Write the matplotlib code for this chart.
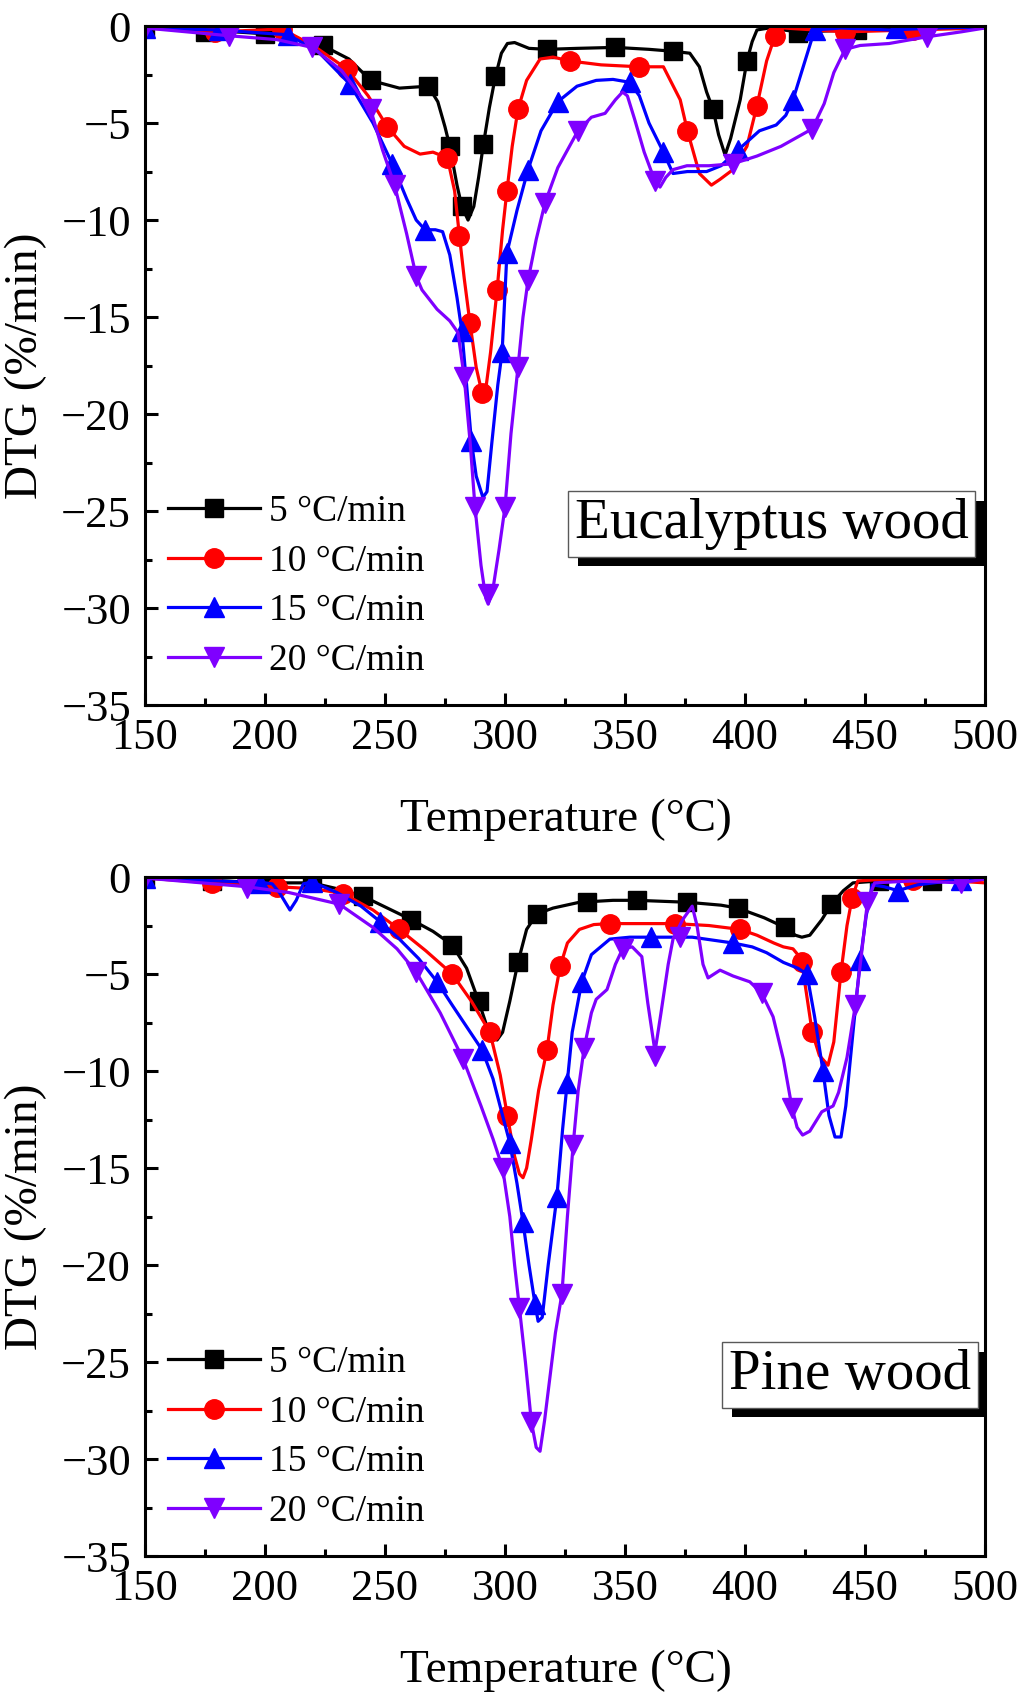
import matplotlib
matplotlib.use("Agg")
import matplotlib.pyplot as plt
from matplotlib.lines import Line2D
from matplotlib import patheffects as pe

plt.rcParams['font.family'] = ['Liberation Serif', 'DejaVu Serif']
plt.rcParams['mathtext.fontset'] = 'stix'

# ---------------- Eucalyptus wood (top) ----------------
eu5_T = [150, 175, 200, 215, 224, 235, 244, 256, 268, 272, 275, 277, 280, 282, 284.6, 287, 289, 291,
         293.5, 296, 298.5, 301, 304, 310, 317.5, 330, 346, 360, 370, 377, 381, 384, 386.7, 389, 391.7,
         394, 398, 400.8, 403, 405, 410, 422, 435, 447, 460, 480, 500]
eu5_D = [-0.1, -0.2, -0.4, -0.7, -1.0, -1.7, -2.8, -3.2, -3.1, -3.9, -5.2, -6.2, -8.2, -9.3, -10.0, -9.3, -7.8, -6.1,
         -4.2, -2.6, -1.4, -0.9, -0.85, -1.15, -1.2, -1.15, -1.1, -1.2, -1.3, -1.4, -2.1, -3.4, -4.3, -5.6, -6.65,
         -5.8, -3.8, -1.8, -0.8, -0.2, -0.1, -0.3, -0.25, -0.2, -0.1, -0.1, -0.05]
eu5_mT = [150, 175, 200, 224, 244, 268, 277, 282, 291, 296, 317.5, 346, 370, 386.7, 400.8, 422, 446.7, 471]
eu5_mD = [-0.1, -0.3, -0.4, -1.0, -2.8, -3.1, -6.2, -9.3, -6.1, -2.6, -1.2, -1.1, -1.3, -4.3, -1.8, -0.35, -0.2, -0.1]

eu10_T = [150, 180, 207, 220, 234, 243, 251, 258, 264.6, 270, 276, 279, 281, 283, 285.4, 288, 290.4, 292,
          294, 296.7, 299, 300.8, 303, 305.4, 309, 314.6, 320, 327, 340, 356, 366, 373, 376, 381, 386,
          389.6, 395, 400.8, 405, 409, 412.5, 416, 441.7, 470, 500]
eu10_D = [-0.1, -0.3, -0.15, -1.0, -2.2, -3.6, -5.2, -6.2, -6.6, -6.5, -6.8, -8.5, -10.8, -13.0, -15.3, -17.6, -18.9, -18.7,
          -16.8, -13.6, -10.5, -8.5, -6.2, -4.3, -2.8, -1.7, -1.6, -1.8, -2.0, -2.1, -2.1, -3.8, -5.4, -7.6, -8.2,
          -7.9, -7.4, -6.2, -4.1, -1.8, -0.5, -0.1, -0.3, -0.2, -0.1]
eu10_mT = [179, 207, 234, 251, 276, 281, 285.4, 290.4, 296.7, 300.8, 305.4, 327, 356, 376, 405, 412.5, 441.7, 470]
eu10_mD = [-0.3, -0.15, -2.2, -5.2, -6.8, -10.8, -15.3, -18.9, -13.6, -8.5, -4.3, -1.8, -2.1, -5.4, -4.1, -0.5, -0.3, -0.2]

eu15_T = [150, 180, 209.6, 222, 235.4, 245, 253, 259, 263, 266.7, 271, 274, 277, 280, 282, 284, 286, 288, 290.8,
          292.5, 294.5, 297, 298.8, 300.8, 305, 309.6, 315, 322, 330, 338, 345, 352, 356, 360, 366, 370, 376,
          384, 390, 397, 406, 413, 417, 420, 425, 429, 440, 460, 480, 500]
eu15_D = [-0.1, -0.2, -0.45, -1.3, -3.0, -5.0, -7.1, -8.9, -10.0, -10.5, -10.5, -10.6, -11.8, -14.0, -15.7, -18.5, -21.4, -23.2, -24.3,
          -24.0, -21.5, -18.5, -16.8, -11.7, -9.5, -7.4, -5.4, -3.9, -3.1, -2.8, -2.75, -2.9, -3.6, -5.0, -6.5, -7.6, -7.5,
          -7.5, -7.2, -6.4, -5.4, -5.1, -4.6, -3.8, -1.8, -0.2, -0.1, -0.2, -0.1, -0.05]
eu15_mT = [150, 181, 209.6, 235.4, 253, 266.7, 282, 286, 298.8, 300.8, 309.6, 322, 352, 366, 397, 420, 429, 463]
eu15_mD = [-0.1, -0.2, -0.45, -3.0, -7.1, -10.5, -15.7, -21.4, -16.8, -11.7, -7.4, -3.9, -2.9, -6.5, -6.4, -3.8, -0.2, -0.1]

eu20_T = [150, 185, 205, 219.6, 232, 244, 249, 254, 259, 263, 265.4, 271.7, 277, 280.4, 283, 285.5, 287.5, 290,
          292, 293, 295, 297.5, 300, 302.5, 305.4, 307.5, 309.6, 313, 316.7, 322, 330.4, 336, 341.7, 346, 349,
          351, 354, 358, 362.5, 364.6, 367, 370, 375.8, 385, 395, 405, 415, 428, 433, 437, 441.7, 448, 460,
          476, 490, 500]
eu20_D = [-0.1, -0.5, -0.7, -1.1, -2.3, -4.3, -6.4, -8.2, -10.7, -12.9, -13.6, -14.6, -15.2, -15.8, -18.1, -21.5, -24.8, -27.8,
          -29.5, -29.8, -29.0, -27.0, -24.8, -21.0, -17.6, -15.0, -13.1, -11.0, -9.1, -7.3, -5.4, -4.7, -4.5, -3.8, -3.4,
          -3.6, -4.8, -6.5, -8.0, -8.3, -7.8, -7.4, -7.2, -7.2, -7.1, -6.7, -6.2, -5.3, -4.0, -2.4, -1.2, -1.0, -0.9,
          -0.55, -0.3, -0.1]
eu20_mT = [150, 185, 219.6, 244, 254, 263, 283, 287.5, 293, 300, 305.4, 309.6, 316.7, 330.4, 362.5, 395, 428, 441.7, 476]
eu20_mD = [-0.1, -0.5, -1.1, -4.3, -8.2, -12.9, -18.1, -24.8, -29.3, -24.8, -17.6, -13.1, -9.1, -5.4, -8.0, -7.1, -5.3, -1.2, -0.55]

# ---------------- Pine wood (bottom) ----------------
pi5_T = [150, 175, 199, 219.6, 230, 241, 251, 261, 270, 278, 284, 289, 293, 296.7, 299, 302, 305.4, 309, 313.3,
         320, 331, 345, 355, 376, 390, 397, 408, 416.7, 421, 423.7, 427, 432, 436, 441, 445, 456, 478, 500]
pi5_D = [-0.05, -0.15, -0.3, -0.3, -0.6, -1.0, -1.6, -2.2, -2.8, -3.5, -4.7, -6.4, -7.9, -8.4, -8.0, -6.4, -4.4, -2.7, -1.9,
         -1.6, -1.3, -1.2, -1.2, -1.3, -1.45, -1.6, -2.1, -2.6, -3.0, -3.1, -3.0, -2.2, -1.4, -0.7, -0.3, -0.2, -0.2, -0.1]
pi5_mT = [150, 178, 199, 219.6, 241, 261, 278, 289, 305.4, 313.3, 334, 355, 376, 397, 416.7, 436, 456, 478]
pi5_mD = [-0.05, -0.2, -0.3, -0.25, -1.0, -2.2, -3.5, -6.4, -4.4, -1.9, -1.3, -1.2, -1.3, -1.6, -2.6, -1.4, -0.2, -0.2]

pi10_T = [150, 178, 205, 220, 232.5, 245, 256, 267, 278, 286, 293.7, 298, 301, 304, 306, 307.5, 309, 311, 314,
          317.5, 320, 323, 326, 331, 337, 343.7, 360, 371, 385, 398, 405, 412, 416, 420, 422, 423.7, 425, 428,
          431, 434.6, 437, 440, 442.5, 444.6, 447, 460, 480, 500]
pi10_D = [-0.05, -0.3, -0.5, -0.6, -0.85, -1.7, -2.7, -3.8, -5.0, -6.4, -8.0, -10.2, -12.3, -14.4, -15.3, -15.5, -15.0, -13.5, -11.0,
          -8.9, -6.6, -4.6, -3.4, -2.7, -2.45, -2.4, -2.4, -2.4, -2.5, -2.7, -3.0, -3.4, -3.6, -3.7, -4.0, -4.4, -5.5, -8.0,
          -9.2, -9.7, -8.5, -4.9, -2.5, -1.1, -0.2, -0.1, -0.15, -0.3]
pi10_mT = [178, 205, 232.5, 256, 278, 293.7, 301, 317.5, 323, 343.7, 371, 398, 423.7, 428, 440, 444.6, 470]
pi10_mD = [-0.3, -0.5, -0.85, -2.7, -5.0, -8.0, -12.3, -8.9, -4.6, -2.4, -2.4, -2.7, -4.4, -8.0, -4.9, -1.1, -0.15]

pi15_T = [150, 180, 200, 203, 206, 210.4, 213, 216, 219.6, 230, 240, 248, 256, 264, 271.7, 278, 285, 290.4, 295,
          299, 302, 305, 307.5, 310, 312.5, 313.8, 315.5, 318, 321.6, 324, 326, 328, 332, 336, 343.7, 352, 361,
          378, 395, 403, 409, 416, 422, 425.8, 429, 432.5, 435, 437.5, 440, 442, 445, 448, 450.5, 453, 458,
          463.7, 472, 485, 500]
pi15_D = [-0.05, -0.2, -0.3, -0.35, -0.8, -1.7, -1.2, -0.35, -0.25, -0.8, -1.5, -2.3, -3.2, -4.2, -5.4, -6.6, -7.9, -8.9, -10.4,
          -12.3, -13.7, -15.8, -17.8, -20.0, -22.0, -22.9, -22.7, -20.0, -16.5, -13.0, -10.5, -8.0, -5.4, -4.0, -3.2, -3.1, -3.1,
          -3.1, -3.4, -3.6, -3.9, -4.4, -4.7, -5.0, -7.2, -10.0, -12.3, -13.4, -13.4, -11.8, -8.0, -4.3, -2.0, -0.4, -0.5,
          -0.7, -0.4, -0.2, -0.1]
pi15_mT = [150, 198, 219.6, 248, 271.7, 290.4, 302, 307.5, 312.5, 321.6, 325.8, 332, 361, 395, 425.8, 432.5, 448, 463.7, 490]
pi15_mD = [-0.05, -0.3, -0.25, -2.3, -5.4, -8.9, -13.7, -17.8, -22.0, -16.5, -10.6, -5.4, -3.1, -3.4, -5.0, -10.0, -4.3, -0.7, -0.15]

pi20_T = [150, 192.5, 210, 231, 245, 255, 263, 273, 282.6, 290, 295, 299, 302, 304, 306, 308.5, 311, 313, 314.6,
          316.5, 319, 321, 323.7, 326, 328.4, 330.5, 333, 336, 338, 342.5, 346, 349, 353, 357, 359.5, 362.5, 365,
          368, 370, 374, 378, 380, 382.5, 384.6, 389.6, 395, 402, 407, 411.7, 416, 419.6, 421.7, 424, 427, 432,
          436.7, 439, 442.5, 446, 448.7, 451, 454, 470, 490, 500]
pi20_D = [-0.05, -0.5, -0.8, -1.4, -2.6, -3.7, -4.9, -7.0, -9.4, -11.8, -13.5, -15.0, -17.5, -20.0, -22.2, -25.0, -28.1, -29.4, -29.6,
          -28.0, -25.5, -23.5, -21.5, -17.5, -13.8, -11.0, -8.8, -7.0, -6.3, -5.8, -4.5, -3.7, -3.6, -4.1, -6.5, -9.0, -7.0,
          -4.5, -3.2, -2.2, -1.5, -2.5, -4.5, -5.2, -4.8, -5.1, -5.4, -6.0, -7.2, -9.4, -11.9, -12.9, -13.3, -13.1, -12.1,
          -11.8, -11.1, -9.3, -6.6, -3.8, -1.3, -0.3, -0.2, -0.3, -0.1]
pi20_mT = [150, 192.5, 231, 263, 282.6, 299, 306, 311, 323.7, 328.4, 333, 349, 362.5, 373, 407, 419.6, 446, 451, 490]
pi20_mD = [-0.05, -0.55, -1.4, -4.9, -9.4, -15.0, -22.2, -28.1, -21.5, -13.8, -8.8, -3.7, -9.2, -3.1, -6.0, -11.9, -6.6, -1.3, -0.3]

rate_labels = ['5 °C/min', '10 °C/min', '15 °C/min', '20 °C/min']
colors = ['#000000', '#FF0000', '#0000FF', '#7F00FF']
markers = ['s', 'o', '^', 'v']
msizes = [13.5, 14, 14, 14]

panels = [
    ('Eucalyptus wood',
     [(eu5_T, eu5_D, eu5_mT, eu5_mD), (eu10_T, eu10_D, eu10_mT, eu10_mD),
      (eu15_T, eu15_D, eu15_mT, eu15_mD), (eu20_T, eu20_D, eu20_mT, eu20_mD)],
     0.746),
    ('Pine wood',
     [(pi5_T, pi5_D, pi5_mT, pi5_mD), (pi10_T, pi10_D, pi10_mT, pi10_mD),
      (pi15_T, pi15_D, pi15_mT, pi15_mD), (pi20_T, pi20_D, pi20_mT, pi20_mD)],
     0.839),
]

fig = plt.figure(figsize=(10.27, 17.03), dpi=100)
axes_pos = [[0.1412, 0.5860, 0.8179, 0.3987], [0.1412, 0.0863, 0.8179, 0.3987]]

for pos, (name, series, tx) in zip(axes_pos, panels):
    ax = fig.add_axes(pos)
    for (T, D, mT, mD), c, m, ms in zip(series, colors, markers, msizes):
        ax.plot(T, D, color=c, lw=2.3, solid_joinstyle='round')
        ax.plot(mT, mD, ls='none', marker=m, ms=ms, color=c, mec=c)

    ax.set_xlim(150, 500)
    ax.set_ylim(-35, 0)
    ax.set_xticks(range(150, 501, 50))
    ax.set_xticks(range(175, 500, 50), minor=True)
    ax.set_yticks(range(-35, 1, 5))
    ax.set_yticks([-32.5, -27.5, -22.5, -17.5, -12.5, -7.5, -2.5], minor=True)
    ax.tick_params(which='both', direction='in', width=2.2, top=False, right=False, labelsize=32)
    ax.tick_params(which='major', length=9)
    ax.tick_params(which='minor', length=5)
    ax.tick_params(axis='x', pad=9)
    ax.tick_params(axis='y', pad=10)
    for sp in ax.spines.values():
        sp.set_linewidth(2.2)

    ax.set_xlabel('Temperature (°C)', fontsize=34)
    ax.set_ylabel('DTG (%/min)', fontsize=34)
    ax.xaxis.set_label_coords(0.501, -0.138)
    ax.yaxis.set_label_coords(-0.117, 0.5)

    handles = [Line2D([], [], color=c, lw=2.3, marker=m, ms=ms, mec=c)
               for c, m, ms in zip(colors, markers, msizes)]
    ax.legend(handles, rate_labels, loc='lower left', bbox_to_anchor=(0.027, 0.04),
              frameon=False, fontsize=27, handlelength=2.45, handletextpad=0.25,
              labelspacing=0.4, borderpad=0, borderaxespad=0)

    t = ax.text(tx, 0.267, name, transform=ax.transAxes, fontsize=41,
                ha='center', va='center',
                bbox=dict(boxstyle='square,pad=0.12', fc='white', ec='0.35', lw=1.0))
    t.get_bbox_patch().set_path_effects([
        pe.SimplePatchShadow(offset=(7, -7), shadow_rgbFace='black', alpha=1.0),
        pe.Normal()])

fig.savefig('out.png', dpi=100)
